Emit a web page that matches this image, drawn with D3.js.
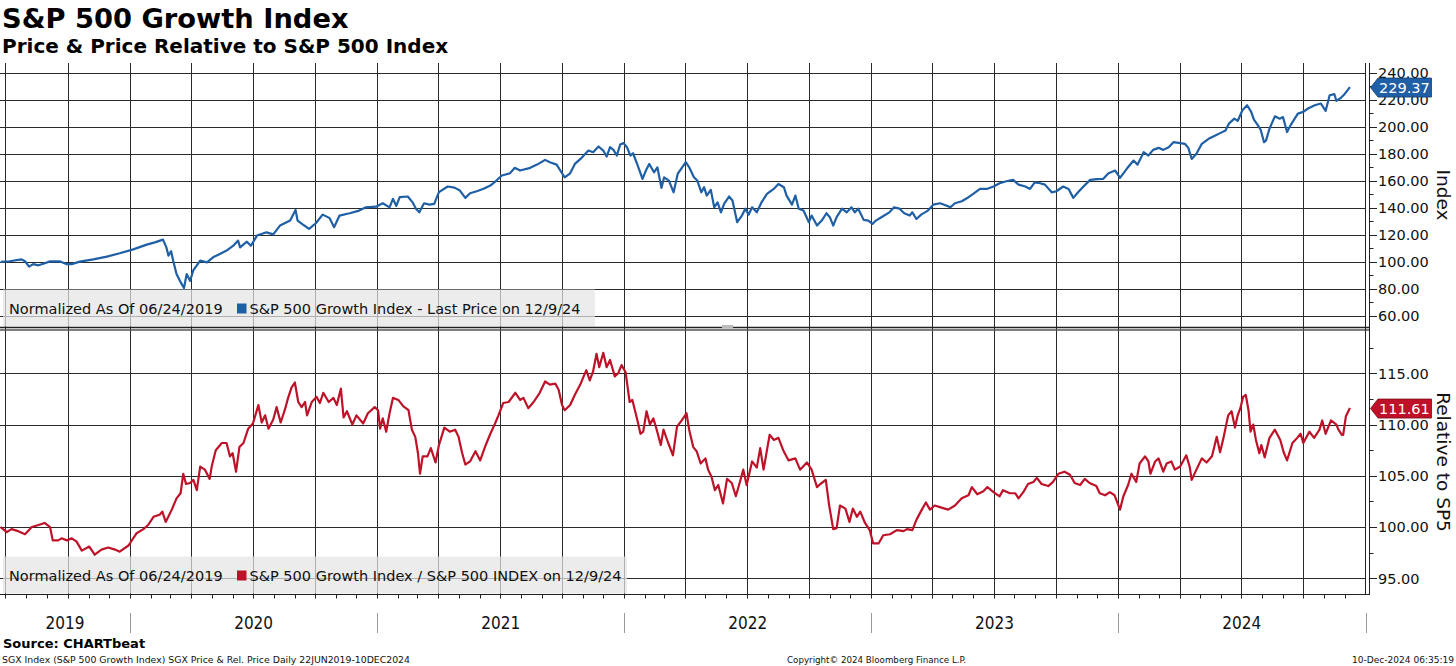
<!DOCTYPE html>
<html><head><meta charset="utf-8">
<script src="https://cdn.jsdelivr.net/npm/d3@7"></script>
<style>body{margin:0;background:#fff}svg{display:block}</style>
</head><body>
<svg id="c" width="1456" height="666"></svg>
<script>
// ---------------- DATA ----------------
const priceSeries = [
["2019-06-24",100],["2019-07-07",100.5],["2019-07-25",101.9],["2019-07-30",100.5],["2019-08-05",96.5],["2019-08-11",98.4],["2019-08-19",97.5],["2019-08-26",98.7],["2019-09-05",100.4],["2019-09-20",100.4],["2019-09-29",98.4],["2019-10-07",98.4],["2019-10-19",100.2],["2019-11-08",101.9],["2019-11-28",103.9],["2019-12-17",106.4],
["2020-01-06",109.3],["2020-01-26",112.8],["2020-02-07",114.5],["2020-02-19",116.5],["2020-02-24",110.8],["2020-02-27",104.7],["2020-03-02",107.9],["2020-03-05",101],["2020-03-10",91.1],["2020-03-15",86],["2020-03-21",80.7],["2020-03-25",91],["2020-03-30",86],["2020-04-04",94],["2020-04-14",101],["2020-04-24",99.7],["2020-05-03",103.4],["2020-05-13",105.9],["2020-05-23",108.4],["2020-06-02",112],["2020-06-09",115.8],["2020-06-12",110.8],["2020-06-22",115],["2020-06-28",112],["2020-07-07",119.5],["2020-07-21",121.9],["2020-07-31",120.4],["2020-08-10",126.9],["2020-08-25",130.6],["2020-09-02",138.5],["2020-09-05",130.6],["2020-09-13",127.6],["2020-09-22",124.4],["2020-10-02",128.6],["2020-10-12",135],["2020-10-22",132.6],["2020-10-29",125.7],["2020-11-06",134.3],["2020-11-21",136],["2020-12-05",138],["2020-12-15",140.4],["2020-12-30",140.9],
["2021-01-09",143.4],["2021-01-19",140.4],["2021-01-24",146.7],["2021-01-29",141.4],["2021-02-03",147.9],["2021-02-15",148.4],["2021-02-22",144.1],["2021-02-27",139.4],["2021-03-04",136.7],["2021-03-11",143.4],["2021-03-19",142.4],["2021-03-26",142.9],["2021-04-02",151.6],["2021-04-15",155.8],["2021-04-25",155],["2021-05-03",152.8],["2021-05-11",147.4],["2021-05-18",150.8],["2021-05-28",152.3],["2021-06-07",154.1],["2021-06-17",156.5],["2021-06-26",160.2],["2021-07-04",163.9],["2021-07-16",165.6],["2021-07-23",169.6],["2021-07-31",167.6],["2021-08-15",169.6],["2021-08-25",172],["2021-09-06",175.5],["2021-09-13",173.8],["2021-09-23",172],["2021-10-01",165.6],["2021-10-05",162.6],["2021-10-13",165.6],["2021-10-20",172.5],["2021-10-30",177],["2021-11-09",182.4],["2021-11-16",181.2],["2021-11-24",185.4],["2021-12-01",182.4],["2021-12-06",178],["2021-12-11",184.9],["2021-12-16",182.9],["2021-12-21",178.7],["2021-12-26",186.9],["2021-12-31",187.9],
["2022-01-05",184.9],["2022-01-10",178.7],["2022-01-14",180.4],["2022-01-20",172.5],["2022-01-28",161.4],["2022-02-02",167.6],["2022-02-07",172.5],["2022-02-14",166.3],["2022-02-19",170],["2022-02-25",154.8],["2022-03-01",162.6],["2022-03-08",160.2],["2022-03-15",151.5],["2022-03-21",165.1],["2022-04-02",173.8],["2022-04-07",170],["2022-04-14",162.6],["2022-04-19",160.2],["2022-04-25",151.5],["2022-04-29",155.3],["2022-05-03",149.1],["2022-05-09",153.3],["2022-05-14",140.4],["2022-05-19",144.1],["2022-05-24",136.7],["2022-05-29",143.4],["2022-06-05",148.4],["2022-06-10",145.4],["2022-06-17",129.4],["2022-06-24",134.3],["2022-06-29",139.4],["2022-07-04",135],["2022-07-09",140.4],["2022-07-16",136.7],["2022-07-23",144.1],["2022-07-31",150.3],["2022-08-10",154],["2022-08-17",157.7],["2022-08-25",155.3],["2022-08-29",149.1],["2022-09-06",142.4],["2022-09-11",149.1],["2022-09-16",139.4],["2022-09-23",138],["2022-10-01",129.4],["2022-10-05",134.3],["2022-10-13",126.9],["2022-10-20",130.6],["2022-10-27",136],["2022-11-01",133.1],["2022-11-06",126.9],["2022-11-11",133.1],["2022-11-19",139.4],["2022-11-26",136.7],["2022-12-03",140.4],["2022-12-08",136.7],["2022-12-13",139.4],["2022-12-21",131.1],["2022-12-28",130.6],
["2023-01-03",128.1],["2023-01-08",130.6],["2023-01-18",133.6],["2023-01-28",136.7],["2023-02-04",140.4],["2023-02-12",139.4],["2023-02-19",136],["2023-02-27",134.3],["2023-03-03",136.7],["2023-03-09",131.8],["2023-03-16",135],["2023-03-26",138],["2023-04-03",142.4],["2023-04-13",143.4],["2023-04-23",141.6],["2023-04-28",140.4],["2023-05-05",143.4],["2023-05-15",144.9],["2023-05-25",147.9],["2023-06-01",150.3],["2023-06-11",154],["2023-06-21",154],["2023-07-01",155.8],["2023-07-10",158.2],["2023-07-20",159.7],["2023-07-30",160.7],["2023-08-07",157.2],["2023-08-17",155.8],["2023-08-24",154],["2023-08-31",158.9],["2023-09-08",158.2],["2023-09-15",157.2],["2023-09-25",151.5],["2023-10-02",152.3],["2023-10-12",155.8],["2023-10-20",154],["2023-10-27",147.4],["2023-11-03",151.5],["2023-11-11",155.8],["2023-11-21",160.7],["2023-12-01",161.2],["2023-12-10",161.4],["2023-12-18",165.6],["2023-12-28",167.6],
["2024-01-04",162.2],["2024-01-14",168.9],["2024-01-24",175],["2024-01-30",172],["2024-02-08",181.2],["2024-02-15",178.7],["2024-02-22",182.9],["2024-03-01",184.4],["2024-03-08",182.9],["2024-03-16",184.9],["2024-03-23",188.6],["2024-04-02",187.9],["2024-04-09",187.4],["2024-04-14",184.4],["2024-04-19",176.2],["2024-04-26",180],["2024-05-04",187.4],["2024-05-14",191.1],["2024-05-24",193.6],["2024-05-31",195.3],["2024-06-08",197.3],["2024-06-13",202.3],["2024-06-21",206],["2024-06-26",204.3],["2024-07-03",212.2],["2024-07-10",215.9],["2024-07-16",211],["2024-07-20",205.3],["2024-07-25",201.8],["2024-07-30",197.8],["2024-08-04",188.6],["2024-08-07",189.9],["2024-08-12",198.5],["2024-08-20",207.7],["2024-08-27",206],["2024-09-01",207.2],["2024-09-07",196.1],["2024-09-13",201.8],["2024-09-23",209.7],["2024-10-01",211],["2024-10-08",213.5],["2024-10-18",215.9],["2024-10-27",217.2],["2024-11-03",211.7],["2024-11-09",223.3],["2024-11-16",224.1],["2024-11-19",219.1],["2024-11-26",221.6],["2024-12-01",224.1],["2024-12-09",229.37]
];
const relSeries = [
["2019-06-24",100],["2019-07-03",99.5],["2019-07-10",99.8],["2019-07-20",99.6],["2019-07-30",99.3],["2019-08-09",100],["2019-08-19",100.2],["2019-08-28",100.4],["2019-09-05",100],["2019-09-09",98.7],["2019-09-17",98.7],["2019-09-22",98.9],["2019-09-30",98.7],["2019-10-07",98.9],["2019-10-14",98.6],["2019-10-22",97.7],["2019-11-02",98.1],["2019-11-10",97.3],["2019-11-20",97.8],["2019-11-30",98.0],["2019-12-10",97.8],["2019-12-17",97.6],["2019-12-30",98.2],
["2020-01-11",99.4],["2020-01-21",99.8],["2020-01-28",100.2],["2020-02-05",101.0],["2020-02-14",101.2],["2020-02-18",101.5],["2020-02-23",100.5],["2020-03-03",101.7],["2020-03-10",102.8],["2020-03-16",103.3],["2020-03-20",105.2],["2020-03-24",104.2],["2020-03-30",104.3],["2020-04-04",104.6],["2020-04-09",103.6],["2020-04-14",105.9],["2020-04-21",105.6],["2020-04-28",104.7],["2020-05-01",105.9],["2020-05-07",107.5],["2020-05-16",108.2],["2020-05-23",108.2],["2020-05-28",106.9],["2020-06-01",107.2],["2020-06-06",105.4],["2020-06-11",107.8],["2020-06-17",108.2],["2020-06-24",109.6],["2020-07-01",110.1],["2020-07-09",111.9],["2020-07-14",110.2],["2020-07-19",110.9],["2020-07-24",109.6],["2020-07-31",110.5],["2020-08-05",111.7],["2020-08-11",110.2],["2020-08-17",111.4],["2020-08-22",112.6],["2020-08-27",113.6],["2020-09-01",114.1],["2020-09-06",112.2],["2020-09-11",111.7],["2020-09-16",112.2],["2020-09-19",110.9],["2020-09-26",112.2],["2020-10-03",112.7],["2020-10-08",112.1],["2020-10-13",113.1],["2020-10-21",112.2],["2020-10-28",112.6],["2020-11-02",111.9],["2020-11-08",113.5],["2020-11-12",110.7],["2020-11-17",111.3],["2020-11-25",110.0],["2020-12-01",110.9],["2020-12-11",110.1],["2020-12-18",111.1],["2020-12-28",111.7],
["2021-01-02",111.4],["2021-01-05",109.6],["2021-01-09",110.6],["2021-01-14",109.3],["2021-01-19",111.1],["2021-01-24",112.6],["2021-02-01",112.4],["2021-02-08",111.8],["2021-02-16",111.4],["2021-02-21",109.5],["2021-02-26",108.8],["2021-03-02",107.2],["2021-03-05",105.2],["2021-03-09",106.9],["2021-03-16",106.9],["2021-03-21",107.7],["2021-03-28",106.3],["2021-04-02",108.0],["2021-04-10",109.7],["2021-04-18",109.3],["2021-04-26",109.5],["2021-05-01",108.8],["2021-05-06",107.3],["2021-05-11",106.1],["2021-05-18",106.4],["2021-05-26",107.4],["2021-06-02",106.5],["2021-06-09",107.8],["2021-06-17",109.1],["2021-06-24",110.1],["2021-06-29",110.9],["2021-07-06",112.1],["2021-07-14",112.2],["2021-07-24",113.1],["2021-07-31",112.4],["2021-08-05",112.6],["2021-08-12",111.6],["2021-08-20",112.2],["2021-08-29",113.1],["2021-09-06",114.2],["2021-09-13",113.9],["2021-09-21",114.0],["2021-09-26",113.4],["2021-10-01",111.9],["2021-10-05",111.4],["2021-10-13",111.9],["2021-10-20",112.9],["2021-10-28",113.9],["2021-11-02",114.7],["2021-11-06",115.3],["2021-11-11",114.3],["2021-11-16",115.2],["2021-11-21",116.9],["2021-11-25",115.6],["2021-12-01",117.0],["2021-12-06",115.6],["2021-12-11",116.3],["2021-12-18",114.7],["2021-12-23",115.0],["2021-12-28",115.8],
["2022-01-03",115.1],["2022-01-09",112.2],["2022-01-13",112.4],["2022-01-19",110.8],["2022-01-25",109.1],["2022-01-29",109.3],["2022-02-03",111.3],["2022-02-08",110.0],["2022-02-13",110.6],["2022-02-18",109.5],["2022-02-24",108.0],["2022-02-28",109.5],["2022-03-07",108.2],["2022-03-14",107.0],["2022-03-20",109.8],["2022-03-27",110.4],["2022-04-03",111.1],["2022-04-07",109.5],["2022-04-13",107.8],["2022-04-18",107.4],["2022-04-24",106.2],["2022-05-01",106.7],["2022-05-05",105.6],["2022-05-10",104.9],["2022-05-15",103.6],["2022-05-20",104.1],["2022-05-27",102.3],["2022-06-02",104.7],["2022-06-09",104.3],["2022-06-15",103.0],["2022-06-21",104.4],["2022-06-26",105.6],["2022-07-01",104.1],["2022-07-09",106.4],["2022-07-16",105.8],["2022-07-21",107.7],["2022-07-26",105.6],["2022-08-04",109.0],["2022-08-10",108.5],["2022-08-17",108.7],["2022-08-24",107.5],["2022-09-01",106.5],["2022-09-11",106.7],["2022-09-18",105.6],["2022-09-28",106.3],["2022-10-05",105.6],["2022-10-13",103.9],["2022-10-18",104.2],["2022-10-26",104.6],["2022-10-31",102.1],["2022-11-06",99.8],["2022-11-11",99.9],["2022-11-16",102.1],["2022-11-24",101.8],["2022-11-30",100.5],["2022-12-05",101.8],["2022-12-11",101.0],["2022-12-16",101.5],["2022-12-23",100.4],["2022-12-30",99.7],
["2023-01-04",98.4],["2023-01-12",98.4],["2023-01-19",99.2],["2023-01-29",99.3],["2023-02-08",99.7],["2023-02-18",99.6],["2023-02-23",99.8],["2023-03-03",99.7],["2023-03-09",100.7],["2023-03-17",101.7],["2023-03-23",102.4],["2023-03-29",101.7],["2023-04-05",102.1],["2023-04-15",101.9],["2023-04-25",101.7],["2023-05-05",102.1],["2023-05-15",102.8],["2023-05-25",103.1],["2023-05-30",103.9],["2023-06-07",103.2],["2023-06-16",103.5],["2023-06-22",103.9],["2023-07-01",103.4],["2023-07-10",103.0],["2023-07-15",103.6],["2023-07-25",103.3],["2023-08-02",103.3],["2023-08-07",102.8],["2023-08-14",103.4],["2023-08-21",104.2],["2023-08-29",104.4],["2023-09-03",104.8],["2023-09-10",104.2],["2023-09-20",104.0],["2023-09-27",104.4],["2023-10-05",105.2],["2023-10-14",105.4],["2023-10-22",105.1],["2023-10-29",104.3],["2023-11-06",104.1],["2023-11-13",104.7],["2023-11-20",104.3],["2023-11-30",104.0],["2023-12-05",103.3],["2023-12-13",103.1],["2023-12-20",103.4],["2023-12-27",103.1],
["2024-01-04",101.7],["2024-01-09",103.0],["2024-01-16",104.1],["2024-01-21",105.2],["2024-01-28",104.4],["2024-02-02",106.2],["2024-02-10",106.9],["2024-02-15",106.4],["2024-02-18",105.2],["2024-02-25",106.4],["2024-03-01",106.7],["2024-03-08",105.4],["2024-03-13",106.2],["2024-03-20",106.4],["2024-03-25",105.6],["2024-04-02",105.9],["2024-04-11",107.0],["2024-04-16",105.9],["2024-04-19",104.6],["2024-04-26",105.6],["2024-05-04",106.7],["2024-05-11",106.3],["2024-05-19",106.9],["2024-05-26",108.8],["2024-05-31",107.3],["2024-06-05",108.7],["2024-06-12",110.9],["2024-06-17",111.3],["2024-06-22",109.7],["2024-06-26",110.9],["2024-06-30",111.6],["2024-07-04",112.7],["2024-07-08",112.9],["2024-07-12",111.4],["2024-07-15",109.3],["2024-07-19",110.0],["2024-07-23",108.5],["2024-07-28",107.2],["2024-07-31",108.0],["2024-08-05",106.8],["2024-08-12",108.7],["2024-08-20",109.5],["2024-08-28",108.5],["2024-09-02",107.3],["2024-09-07",106.5],["2024-09-15",108.2],["2024-09-22",108.7],["2024-09-27",109.1],["2024-10-01",108.2],["2024-10-10",109.3],["2024-10-17",108.7],["2024-10-25",109.5],["2024-10-29",110.4],["2024-11-03",109.1],["2024-11-11",110.4],["2024-11-19",110.0],["2024-11-22",109.5],["2024-11-27",109.0],["2024-11-29",109.0],["2024-12-03",110.8],["2024-12-09",111.61]
];
const priceTicks = [60,80,100,120,140,160,180,200,220,240];
const relTicks = [95,100,105,110,115];
const yearLabels = ["2019","2020","2021","2022","2023","2024"];
const lastPrice = 229.37, lastRel = 111.61;

// ---------------- LAYOUT ----------------
const W = 1456, H = 666;
const plotL = 0, plotR = 1365.5;
const topT = 63, topB = 327, botT = 330, botB = 594;
const F = "'DejaVu Sans', Verdana, sans-serif";
const FC = "'DejaVu Sans Condensed', 'DejaVu Sans', sans-serif";
const BLUE = "#1f5fa5", RED = "#be1229", GRID = "#2a2a2a";

const parse = d3.timeParse("%Y-%m-%d");
const pData = priceSeries.map(d => ({date: parse(d[0]), v: d[1]}));
const rData = relSeries.map(d => ({date: parse(d[0]), v: d[1]}));

const x = d3.scaleTime().domain([new Date(2019,5,23), new Date(2025,0,1)]).range([plotL, plotR]);
const yP = d3.scaleLinear().domain([60,240]).range([316,72.7]);
const yR = d3.scaleLinear().domain([95,115]).range([578.3,373.3]);

const svg = d3.select("#c");
svg.append("rect").attr("width",W).attr("height",H).attr("fill","#fff");

const defs = svg.append("defs");
defs.append("clipPath").attr("id","clipTop").append("rect").attr("x",plotL).attr("y",topT).attr("width",plotR-plotL).attr("height",topB-topT);
defs.append("clipPath").attr("id","clipBot").append("rect").attr("x",plotL).attr("y",botT).attr("width",plotR-plotL).attr("height",botB-botT);

// Titles
svg.append("text").attr("x",2).attr("y",28).attr("font-family",F).attr("font-weight","bold").attr("font-size",27.3).attr("fill","#000").text("S&P 500 Growth Index");
svg.append("text").attr("x",2).attr("y",53).attr("font-family",F).attr("font-weight","bold").attr("font-size",20).attr("fill","#000").text("Price & Price Relative to S&P 500 Index");

// Grid
const g = svg.append("g");
const quarters = d3.timeMonth.every(3).range(new Date(2019,6,1), new Date(2025,0,1));
g.selectAll("line.vg").data(quarters).join("line")
  .attr("x1",d=>Math.round(x(d))+0.5).attr("x2",d=>Math.round(x(d))+0.5)
  .attr("y1",topT).attr("y2",botB).attr("stroke",GRID).attr("stroke-width",1);
g.selectAll("line.hp").data(priceTicks).join("line")
  .attr("x1",plotL).attr("x2",plotR).attr("y1",d=>Math.round(yP(d))+0.5).attr("y2",d=>Math.round(yP(d))+0.5)
  .attr("stroke",GRID).attr("stroke-width",1);
g.selectAll("line.hr").data(relTicks).join("line")
  .attr("x1",plotL).attr("x2",plotR).attr("y1",d=>Math.round(yR(d))+0.5).attr("y2",d=>Math.round(yR(d))+0.5)
  .attr("stroke",GRID).attr("stroke-width",1);

// Lines
const lineP = d3.line().x(d=>x(d.date)).y(d=>yP(d.v));
const lineR = d3.line().x(d=>x(d.date)).y(d=>yR(d.v));
svg.append("path").datum(pData).attr("clip-path","url(#clipTop)").attr("d",lineP)
  .attr("fill","none").attr("stroke",BLUE).attr("stroke-width",2.2).attr("stroke-linejoin","round");
svg.append("path").datum(rData).attr("clip-path","url(#clipBot)").attr("d",lineR)
  .attr("fill","none").attr("stroke",RED).attr("stroke-width",2.2).attr("stroke-linejoin","round");

// Legends
function legend(y0, y1, w, text, color, base){
  svg.append("rect").attr("x",3).attr("y",y0).attr("width",w).attr("height",y1-y0)
    .attr("fill","#e4e4e4").attr("fill-opacity",0.72);
  svg.append("text").attr("x",9).attr("y",base).attr("font-family",F).attr("font-size",14.5).attr("fill","#111")
    .text("Normalized As Of 06/24/2019");
  svg.append("rect").attr("x",237).attr("y",base-10.5).attr("width",9.5).attr("height",10).attr("fill",color);
  svg.append("text").attr("x",249.5).attr("y",base).attr("font-family",F).attr("font-size",14.5).attr("fill","#111")
    .text(text);
}
legend(289.5, 326.5, 592, "S&P 500 Growth Index - Last Price on 12/9/24", BLUE, 314);
legend(556.5, 593.5, 624, "S&P 500 Growth Index / S&P 500 INDEX on 12/9/24", RED, 581);

// Panel separator
svg.append("line").attr("x1",0).attr("x2",1370).attr("y1",327.5).attr("y2",327.5).attr("stroke","#222").attr("stroke-width",1.6);
svg.append("line").attr("x1",0).attr("x2",1370).attr("y1",330).attr("y2",330).attr("stroke","#555").attr("stroke-width",1.4);
svg.append("rect").attr("x",722).attr("y",325).attr("width",11).attr("height",3).attr("fill","#bbb");

// Right axis double line
[1365.5, 1369.5].forEach(xx => svg.append("line").attr("x1",xx).attr("x2",xx).attr("y1",topT).attr("y2",botB).attr("stroke","#222").attr("stroke-width",1));
// bottom axis line
svg.append("line").attr("x1",0).attr("x2",1370).attr("y1",botB+0.5).attr("y2",botB+0.5).attr("stroke","#222").attr("stroke-width",1.2);

// right ticks
const ax = svg.append("g");
const pMinor = d3.range(50, 246, 10).filter(v => yP(v) > topT && yP(v) < topB);
ax.selectAll("line.pm").data(pMinor).join("line")
  .attr("x1",1369.5).attr("x2",d=> (d%20===0)?1377:1373.5).attr("y1",d=>Math.round(yP(d))+0.5).attr("y2",d=>Math.round(yP(d))+0.5)
  .attr("stroke","#222");
const rMinor = d3.range(92.5, 120, 2.5).filter(v => yR(v) > botT && yR(v) < botB);
ax.selectAll("line.rm").data(rMinor).join("line")
  .attr("x1",1369.5).attr("x2",d=> (d%5===0)?1377:1373.5).attr("y1",d=>Math.round(yR(d))+0.5).attr("y2",d=>Math.round(yR(d))+0.5)
  .attr("stroke","#222");
const fmt = d3.format(".2f");
ax.selectAll("text.pl").data(priceTicks).join("text")
  .attr("x",1378).attr("y",d=>yP(d)).attr("dy","0.36em").attr("font-family",F).attr("font-size",14.5).attr("fill","#111").text(fmt);
ax.selectAll("text.rl").data(relTicks).join("text")
  .attr("x",1378).attr("y",d=>yR(d)).attr("dy","0.36em").attr("font-family",F).attr("font-size",14.5).attr("fill","#111").text(fmt);

// axis titles
svg.append("text").attr("transform",`translate(1437,${(topT+topB)/2}) rotate(90)`).attr("text-anchor","middle")
  .attr("font-family",F).attr("font-size",18.5).attr("fill","#111").text("Index");
svg.append("text").attr("transform",`translate(1437,${(botT+botB)/2}) rotate(90)`).attr("text-anchor","middle")
  .attr("font-family",F).attr("font-size",18.5).attr("fill","#111").text("Relative to SP5");

// value tags (overlay the axis labels, as in the original)
function tag(yv, color, stroke, txt){
  const h = 9.5;
  svg.append("path").attr("d",`M1370.5,${yv} L1378,${yv-h} L1431.5,${yv-h} L1431.5,${yv+h} L1378,${yv+h} Z`)
    .attr("fill",color).attr("stroke",stroke).attr("stroke-width",0.8);
  svg.append("text").attr("x",1379).attr("y",yv).attr("dy","0.36em").attr("font-family",F).attr("font-size",14.5).attr("fill","#fff").text(txt);
}
tag(yP(lastPrice)+0.5, BLUE, "#123d6e", fmt(lastPrice));
tag(yR(lastRel)+0.5, RED, "#7a0a18", fmt(lastRel));

// x axis: monthly ticks
const months = d3.timeMonth.every(1).range(new Date(2019,6,1), new Date(2025,0,1));
svg.selectAll("line.mt").data(months).join("line")
  .attr("x1",d=>Math.round(x(d))+0.5).attr("x2",d=>Math.round(x(d))+0.5).attr("y1",botB).attr("y2",botB+4.5)
  .attr("stroke","#222");
// year separators and labels
const yearStarts = d3.timeYear.every(1).range(new Date(2020,0,1), new Date(2025,0,2));
svg.selectAll("line.ys").data(yearStarts).join("line")
  .attr("x1",d=>Math.round(x(d))+0.5).attr("x2",d=>Math.round(x(d))+0.5).attr("y1",613).attr("y2",633)
  .attr("stroke","#999").attr("stroke-width",1);
const [d0, d1] = x.domain();
svg.selectAll("text.yl").data(yearLabels).join("text")
  .attr("x", d => { const s = new Date(+d,0,1), e = new Date(+d+1,0,1);
     return (x(s < d0 ? d0 : s) + x(e > d1 ? d1 : e)) / 2; })
  .attr("y",629).attr("text-anchor","middle").attr("font-family",FC).attr("font-stretch","condensed")
  .attr("font-size",17).attr("fill","#111").text(d=>d);

// footer
svg.append("text").attr("x",3).attr("y",648).attr("font-family",F).attr("font-weight","bold").attr("font-size",13).attr("fill","#000").text("Source: CHARTbeat");
svg.append("text").attr("x",2).attr("y",663).attr("font-family",FC).attr("font-stretch","condensed").attr("font-size",9.5)
  .attr("textLength",408).attr("lengthAdjust","spacingAndGlyphs").attr("fill","#111")
  .text("SGX Index (S&P 500 Growth Index) SGX Price & Rel. Price  Daily 22JUN2019-10DEC2024");
svg.append("text").attr("x",787).attr("y",663).attr("font-family",FC).attr("font-stretch","condensed").attr("font-size",9.5)
  .attr("textLength",179).attr("lengthAdjust","spacingAndGlyphs").attr("fill","#111")
  .text("Copyright© 2024 Bloomberg Finance L.P.");
svg.append("text").attr("x",1352).attr("y",663).attr("font-family",FC).attr("font-stretch","condensed").attr("font-size",9.5)
  .attr("textLength",102).attr("lengthAdjust","spacingAndGlyphs").attr("fill","#111")
  .text("10-Dec-2024 06:35:19");
</script>
</body></html>
